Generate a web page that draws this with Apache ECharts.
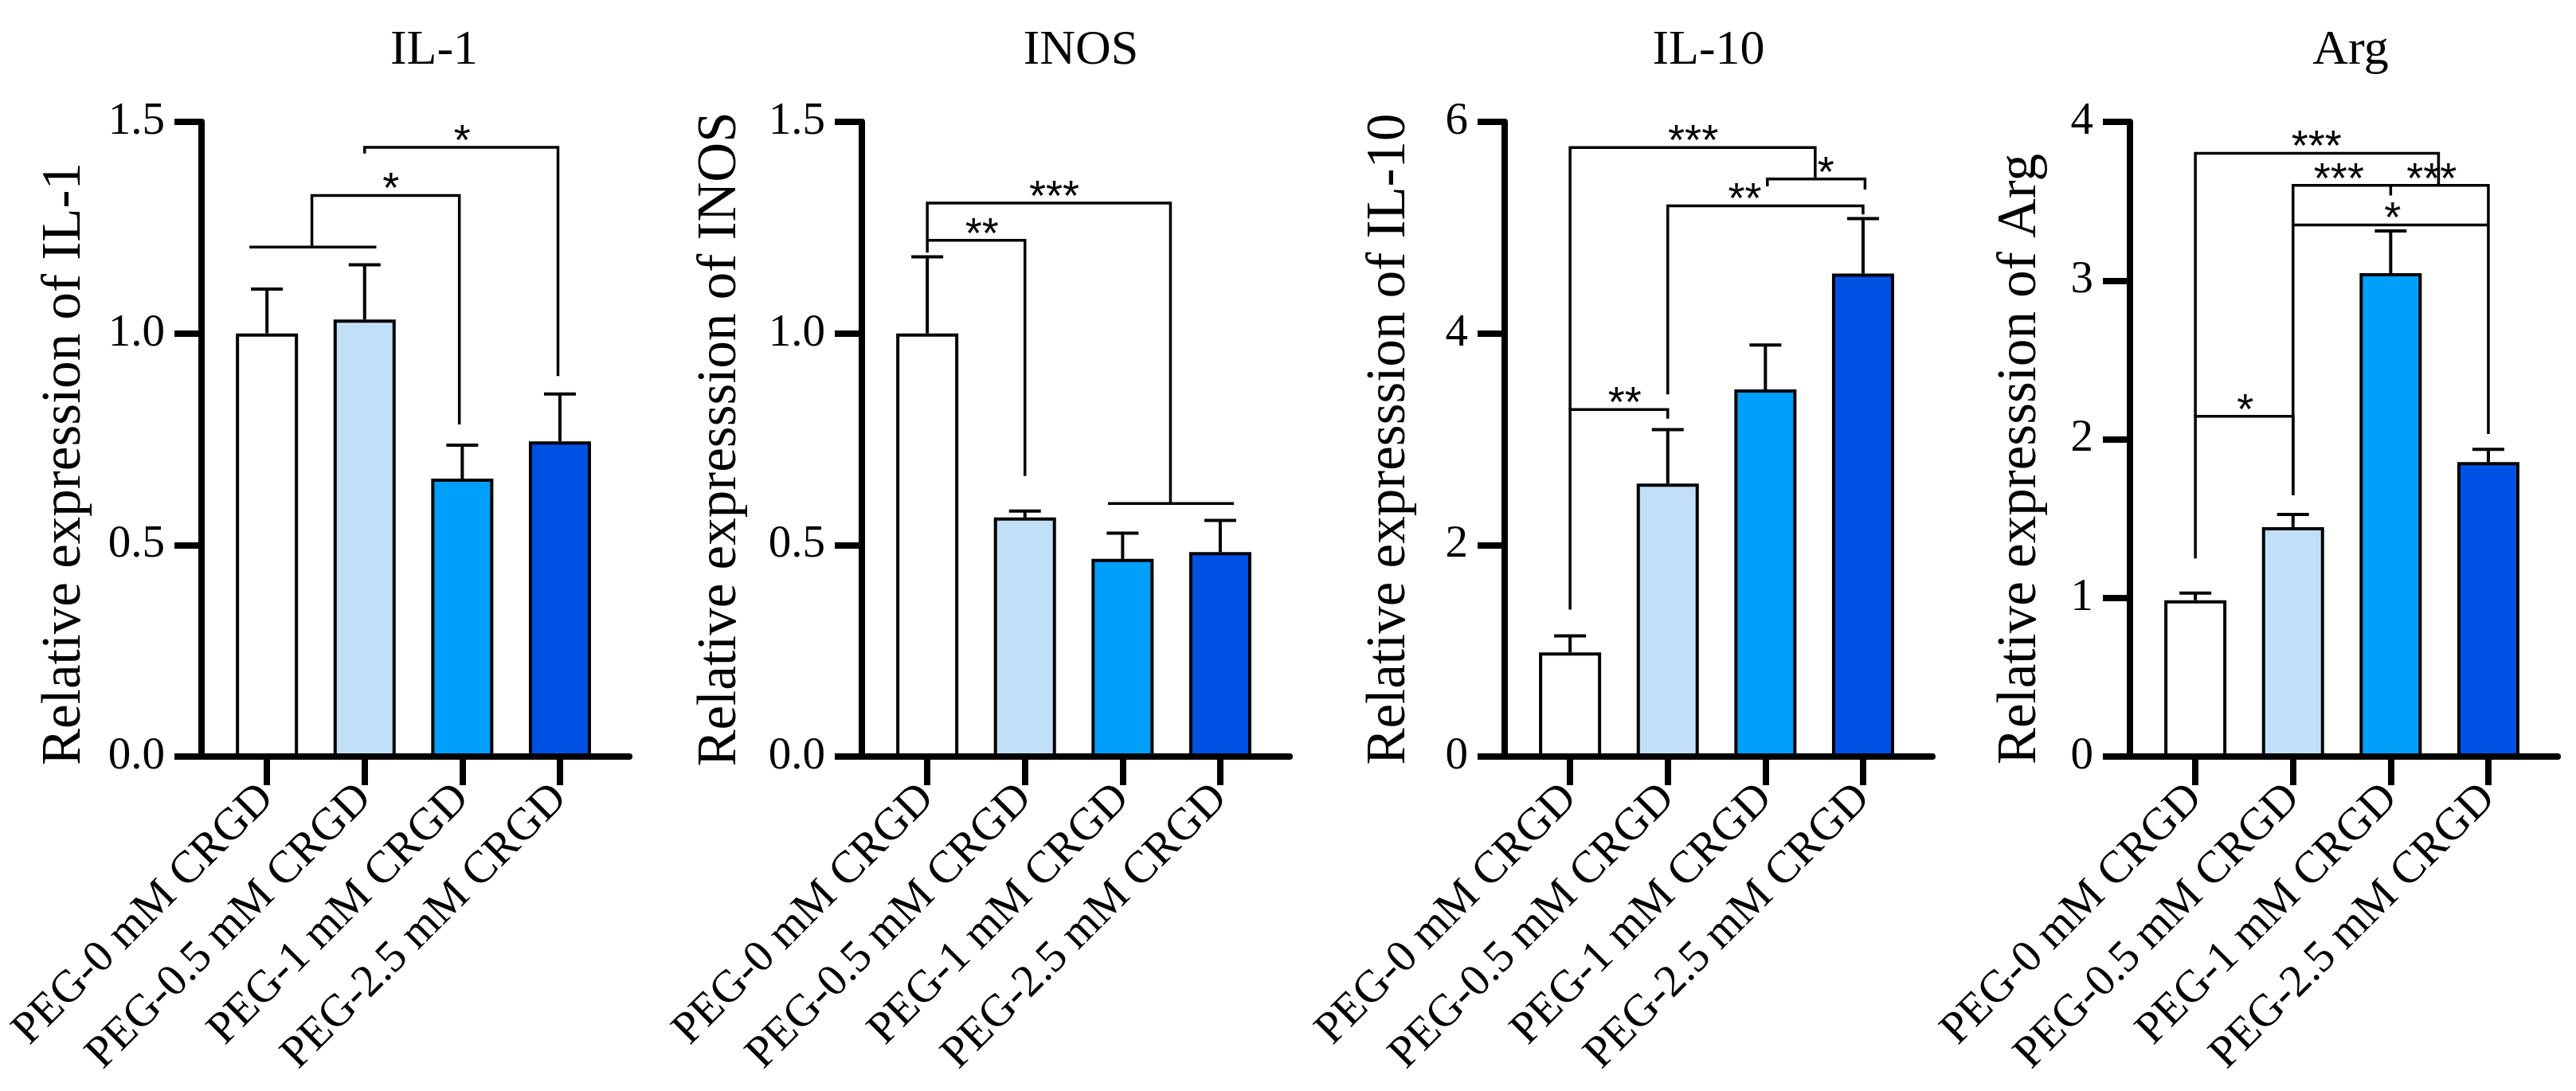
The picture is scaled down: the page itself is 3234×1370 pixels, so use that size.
<!DOCTYPE html>
<html>
<head>
    <meta charset="utf-8">
    <style>
        html, body {
            width: 100%;
            height: 100%;
            margin: 0;
            background: #fff;
        }

        #chart-panel {
            width: 100%;
            height: 100%;
        }
    </style>
    <script src="https://cdn.jsdelivr.net/npm/echarts@6/dist/echarts.min.js"></script>
</head>
<body>
<div id="chart-panel"></div>
<script type="text/javascript">

  // groups, same order in every panel
  var categories = ['PEG-0 mM CRGD', 'PEG-0.5 mM CRGD', 'PEG-1 mM CRGD', 'PEG-2.5 mM CRGD'];
  var barColors = ['#ffffff', '#c2dff8', '#00a0fa', '#0050e3'];

  var titles = ['IL-1', 'INOS', 'IL-10', 'Arg'];
  var yNames = ['Relative expression of IL-1', 'Relative expresssion of INOS',
                'Relative expresssion of IL-10', 'Relative expresssion of Arg'];
  var yMax = [1.5, 1.5, 6, 4];
  var yStep = [0.5, 0.5, 2, 1];
  var yDigits = [1, 1, 0, 0];

  // mean and upper error (SD)
  var il1Mean = [1.00, 1.033, 0.657, 0.745];
  var il1Err = [0.105, 0.129, 0.079, 0.112];
  var inosMean = [1.00, 0.565, 0.467, 0.483];
  var inosErr = [0.181, 0.015, 0.061, 0.075];
  var il10Mean = [0.985, 2.58, 3.47, 4.565];
  var il10Err = [0.155, 0.51, 0.42, 0.52];
  var argMean = [0.985, 1.446, 3.046, 1.856];
  var argErr = [0.045, 0.08, 0.266, 0.08];

  // significance brackets: polylines in (group index, value) units
  var il1Lines = [
    [[-0.18, 1.204], [1.12, 1.204]],
    [[0.46, 1.204], [0.46, 1.326], [1.97, 1.326], [1.97, 0.785]],
    [[1.0, 1.425], [1.0, 1.44], [2.98, 1.44], [2.98, 0.899]]
  ];
  var il1Stars = [['*', 1.27, 1.326], ['*', 2.0, 1.44]];

  var inosLines = [
    [[0, 1.191], [0, 1.308], [2.49, 1.308], [2.49, 0.598]],
    [[0, 1.22], [1, 1.22], [1, 0.663]],
    [[1.85, 0.598], [3.14, 0.598]]
  ];
  var inosStars = [['***', 1.3, 1.308], ['**', 0.56, 1.22]];

  var il10Lines = [
    [[0, 1.389], [0, 3.281], [1, 3.281], [1, 3.194]],
    [[0, 3.281], [0, 5.757], [2.51, 5.757], [2.51, 5.46]],
    [[2.02, 5.39], [2.02, 5.46], [3.02, 5.46], [3.02, 5.36]],
    [[1, 3.424], [1, 5.206], [3, 5.206], [3, 5.125]]
  ];
  var il10Stars = [['**', 0.56, 3.281], ['***', 1.26, 5.757], ['*', 2.62, 5.46], ['**', 1.79, 5.206]];

  var argLines = [
    [[0, 1.248], [0, 2.144], [1, 2.144], [1, 1.648]],
    [[0, 2.144], [0, 3.802], [2.49, 3.802], [2.49, 3.60]],
    [[1, 1.648], [1, 3.60], [3, 3.60], [3, 2.032]],
    [[2, 3.60], [2, 3.536]],
    [[1, 3.35], [3, 3.35]]
  ];
  var argStars = [['*', 0.51, 2.144], ['***', 1.24, 3.802], ['***', 1.47, 3.60],
                  ['***', 2.42, 3.60], ['*', 2.02, 3.35]];

  var means = [il1Mean, inosMean, il10Mean, argMean];
  var errs = [il1Err, inosErr, il10Err, argErr];
  var lines = [il1Lines, inosLines, il10Lines, argLines];
  var stars = [il1Stars, inosStars, il10Stars, argStars];

  // layout of the four panels (pixels)
  var gridLeft = [253, 1082, 1889, 2674];
  var titleX = [540, 1352, 2140, 2946];
  var nameGap = [137, 143, 110, 103];
  var namePad = [62, 0, 0, 50];
  var serif = 'Liberation Serif';

  var myChart = echarts.init(document.getElementById('chart-panel'));

  var option = {
    animation: false,
    backgroundColor: '#fff',
    title: [],
    grid: [],
    xAxis: [],
    yAxis: [],
    series: []
  };

  titles.forEach(function (t, k) {
    option.title.push({
      text: t,
      left: titleX[k],
      top: 28,
      textAlign: 'center',
      textStyle: {fontFamily: serif, fontSize: 62, fontWeight: 'normal', color: '#000'}
    });

    option.grid.push({
      left: gridLeft[k], top: 153, width: 537, height: 797,
      containLabel: false, outerBoundsMode: 'none'
    });

    option.xAxis.push({
      gridIndex: k,
      type: 'value',
      min: -0.67,
      max: 3.71,
      axisLine: {show: true, onZero: false, lineStyle: {color: '#000', width: 8}},
      axisTick: {show: true, customValues: [0, 1, 2, 3], length: 36,
                 lineStyle: {color: '#000', width: 8}},
      axisLabel: {
        customValues: [0, 1, 2, 3], rotate: 45, margin: 44,
        fontFamily: serif, fontSize: 57, color: '#000',
        formatter: function (v) { return categories[Math.round(v)]; }
      },
      splitLine: {show: false}
    });

    option.yAxis.push({
      gridIndex: k,
      type: 'value',
      min: 0,
      max: yMax[k],
      interval: yStep[k],
      name: yNames[k],
      nameLocation: 'middle',
      nameGap: nameGap[k],
      nameRotate: 90,
      nameMoveOverlap: false,
      nameTextStyle: {fontFamily: serif, fontSize: 69, color: '#000', padding: [0, namePad[k], 0, 0]},
      axisLine: {show: true, onZero: false, lineStyle: {color: '#000', width: 8}},
      axisTick: {show: true, length: 34, lineStyle: {color: '#000', width: 8}},
      axisLabel: {
        fontFamily: serif, fontSize: 57, color: '#000', margin: 46,
        formatter: (function (d) { return function (v) { return v.toFixed(d); }; })(yDigits[k])
      },
      splitLine: {show: false}
    });

    // bars
    option.series.push({
      type: 'bar',
      xAxisIndex: k,
      yAxisIndex: k,
      barWidth: 78,
      silent: true,
      itemStyle: {borderColor: '#000', borderWidth: 4},
      data: means[k].map(function (m, i) {
        return {value: [i, m], itemStyle: {color: barColors[i]}};
      })
    });

    // upper error bars
    option.series.push({
      type: 'custom',
      xAxisIndex: k,
      yAxisIndex: k,
      silent: true,
      data: means[k].map(function (m, i) { return [i, m, m + errs[k][i]]; }),
      renderItem: function (params, api) {
        var p0 = api.coord([api.value(0), api.value(1)]);
        var p1 = api.coord([api.value(0), api.value(2)]);
        var st = {stroke: '#000', lineWidth: 4};
        return {
          type: 'group',
          children: [
            {type: 'line', shape: {x1: p0[0], y1: p0[1], x2: p1[0], y2: p1[1]}, style: st},
            {type: 'line', shape: {x1: p1[0] - 20, y1: p1[1], x2: p1[0] + 20, y2: p1[1]}, style: st}
          ]
        };
      }
    });

    // brackets
    option.series.push({
      type: 'custom',
      xAxisIndex: k,
      yAxisIndex: k,
      silent: true,
      z: 3,
      data: lines[k].map(function (l) { return l[0]; }),
      renderItem: (function (pk) {
        return function (params, api) {
          var pts = lines[pk][params.dataIndex].map(function (p) { return api.coord(p); });
          return {
            type: 'polyline',
            shape: {points: pts},
            style: {stroke: '#000', lineWidth: 3.5, fill: null, lineJoin: 'miter'}
          };
        };
      })(k)
    });

    // stars
    option.series.push({
      type: 'custom',
      xAxisIndex: k,
      yAxisIndex: k,
      silent: true,
      z: 4,
      data: stars[k].map(function (s) { return [s[1], s[2]]; }),
      renderItem: (function (pk) {
        return function (params, api) {
          var p = api.coord([api.value(0), api.value(1)]);
          return {
            type: 'text',
            x: p[0],
            y: p[1] - 6,
            style: {
              text: stars[pk][params.dataIndex][0],
              font: '54px "Liberation Sans"',
              fill: '#000',
              align: 'center',
              verticalAlign: 'middle'
            }
          };
        };
      })(k)
    });
  });

  myChart.setOption(option);
</script>
</body>
</html>
